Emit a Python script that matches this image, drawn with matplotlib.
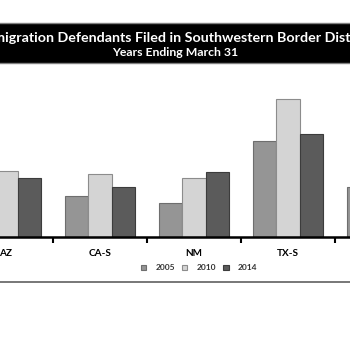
import matplotlib
matplotlib.use('Agg')
import matplotlib.pyplot as plt
import numpy as np
from matplotlib.patches import Rectangle

plt.rcParams['font.family'] = ['Lato', 'DejaVu Sans']

# districts and defendants filed (off-screen bars estimated)
districts = ['AZ', 'CA-S', 'NM', 'TX-S', 'TX-W']
years = ['2005', '2010', '2014']
filed_2005 = [2600, 2065, 1685, 4815, 2515]
filed_2010 = [3315, 3150, 2935, 6885, 3600]
filed_2014 = [2935, 2485, 3235, 5135, 3100]

colors = ['#959595', '#d4d4d4', '#5b5b5b']
edges = ['#6e6e6e', '#8c8c8c', '#3c3c3c']

W, H = 350, 350
fig = plt.figure(figsize=(3.5, 3.5), dpi=100)

# title band (the chart is cropped left and right)
band = Rectangle((-0.05, 1 - 63 / H), 1.1, 40 / H, transform=fig.transFigure,
                 facecolor='black', edgecolor='#808080', linewidth=1.0)
fig.patches.append(band)
fig.text(177 / W, 1 - 38 / H, 'Immigration Defendants Filed in Southwestern Border Districts',
         color='white', fontsize=10.3, fontweight='bold', ha='center', va='center')
fig.text(175 / W, 1 - 53 / H, 'Years Ending March 31',
         color='white', fontsize=8.8, fontweight='bold', ha='center', va='center')

# axes placed so the categories land where they are in the crop
left = (6 - 47) / W
ax = fig.add_axes([left, 1 - 237 / H, 470 / W, (237 - 70) / H])
x = np.arange(len(districts))
bw = 0.248
series = [filed_2005, filed_2010, filed_2014]
for i, (vals, yr) in enumerate(zip(series, years)):
    ax.bar(x + (i - 1) * bw, vals, bw, color=colors[i], edgecolor=edges[i],
           linewidth=0.8, label=yr)

ax.set_xlim(-0.5, len(districts) - 0.5)
ax.set_ylim(0, (237 - 70) * 50)
ax.set_yticks([])
for s in ['top', 'right', 'left']:
    ax.spines[s].set_visible(False)
ax.spines['bottom'].set_linewidth(1.8)
ax.set_xticks(x)
ax.set_xticklabels(districts, fontsize=7.2, fontweight='bold')
ax.tick_params(axis='x', which='major', length=0, pad=9)
ax.set_xticks(np.arange(len(districts) - 1) + 0.5, minor=True)
ax.tick_params(axis='x', which='minor', length=4, width=1.5, direction='out')
ax.patch.set_alpha(0)

leg = fig.legend(loc='center', bbox_to_anchor=(199 / W, 1 - 268 / H), ncol=3,
                 frameon=False, fontsize=6, handlelength=0.65, handleheight=0.65,
                 handletextpad=1.1, columnspacing=0.85)
for t in leg.get_texts():
    t.set_fontweight('bold')
    t.set_color('#333333')

fig.add_artist(plt.Line2D([0, 1], [1 - 282 / H, 1 - 282 / H], transform=fig.transFigure,
                          color='#777777', linewidth=1.4))

fig.savefig('out.png', dpi=100)
